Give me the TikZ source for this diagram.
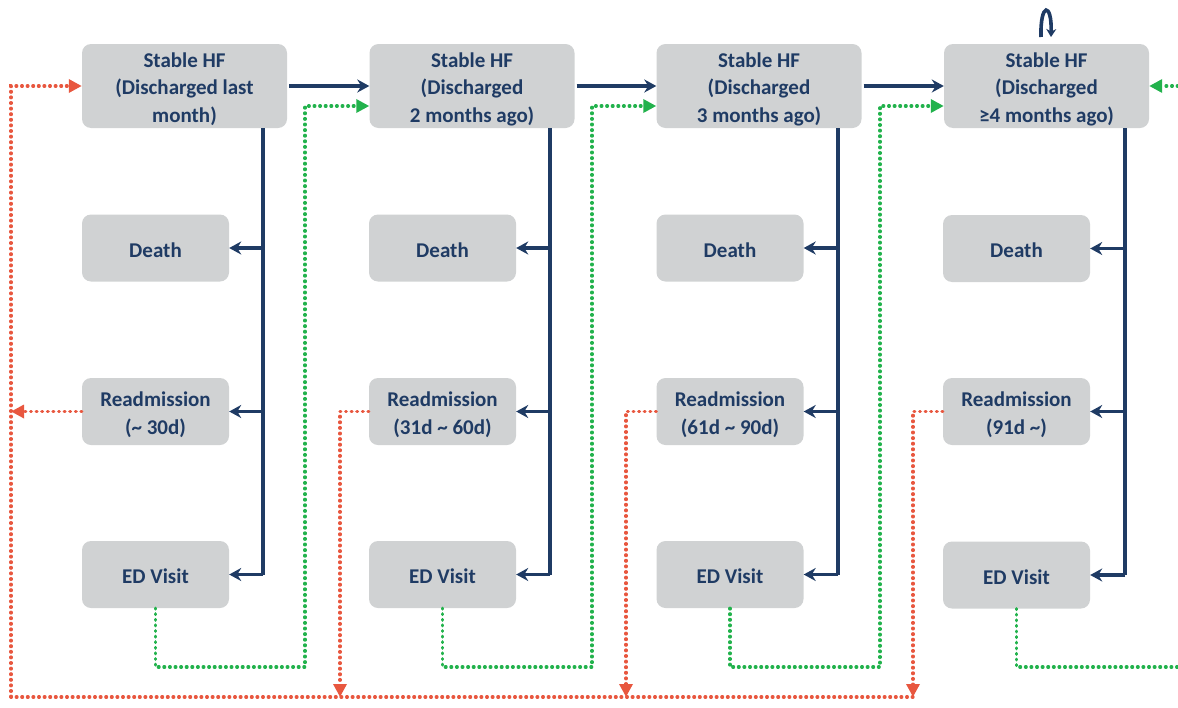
\documentclass[tikz,border=0pt]{standalone}
\usepackage{fontspec}
\setmainfont{Carlito}
\usetikzlibrary{arrows.meta}
\definecolor{navy}{HTML}{1F3B64}
\definecolor{boxgray}{HTML}{D0D2D3}
\definecolor{redd}{HTML}{E8573F}
\definecolor{grn}{HTML}{22B24C}
\newcommand\tallstrut{\rule{0pt}{21pt}}
\newcommand\onestrut{\rule{0pt}{18.5pt}}
\begin{document}
\begin{tikzpicture}[x=1pt,y=-1pt,
 box/.style={fill=boxgray, rounded corners=9pt, text=navy, font=\fontsize{21}{27.5}\selectfont\bfseries, align=center, inner sep=0pt},
 big/.style={box, minimum width=205pt, minimum height=84pt},
 small/.style={box, minimum width=147pt, minimum height=67pt},
 flow/.style={draw=navy, line width=3.2pt},
 flowarrow/.style={flow, -{Stealth[length=12pt,width=13pt]}},
 dotline/.style={line width=3.2pt, dash pattern=on 0.8pt off 4.8pt, line cap=round},
 reddot/.style={dotline, draw=redd},
 grndot/.style={dotline, draw=grn},
 redarrow/.style={reddot, -{Triangle[length=13pt,width=13pt]}},
 grnarrow/.style={grndot, -{Triangle[length=13pt,width=13pt]}}
]
\useasboundingbox (0,0) rectangle (1178,707);

% top boxes
\node[big] (t1) at (184.5,86) {\tallstrut Stable HF\\(Discharged last\\month)};
\node[big] (t2) at (472,86) {\tallstrut Stable HF\\(Discharged\\2 months ago)};
\node[big] (t3) at (759,86) {\tallstrut Stable HF\\(Discharged\\3 months ago)};
\node[big] (t4) at (1046.5,86) {\tallstrut Stable HF\\(Discharged\\≥4 months ago)};

% small boxes
\node[small] (d1) at (155.5,248) {\onestrut Death};
\node[small] (d2) at (442.5,248) {\onestrut Death};
\node[small] (d3) at (730,248) {\onestrut Death};
\node[small] (d4) at (1016.5,248.5) {\onestrut Death};
\node[small] (r1) at (155.5,411.5) {\tallstrut Readmission\\(\textasciitilde{} 30d)};
\node[small] (r2) at (442.5,411.5) {\tallstrut Readmission\\(31d \textasciitilde{} 60d)};
\node[small] (r3) at (730,411.5) {\tallstrut Readmission\\(61d \textasciitilde{} 90d)};
\node[small] (r4) at (1016.5,411.5) {\tallstrut Readmission\\(91d \textasciitilde)};
\node[small] (e1) at (155.5,574.5) {\onestrut ED Visit};
\node[small] (e2) at (442.5,574.5) {\onestrut ED Visit};
\node[small] (e3) at (730,574.5) {\onestrut ED Visit};
\node[small] (e4) at (1016.5,575) {\onestrut ED Visit};

% blue flows
\coordinate (v1) at (263,0);
\coordinate (v2) at (550,0);
\coordinate (v3) at (838,0);
\coordinate (v4) at (1125,0);
\foreach \i in {1,2,3,4}{
  \draw[flow] (t\i.south -| v\i) -- (e\i.east -| v\i);
  \draw[flowarrow] (d\i.east -| v\i) -- (d\i.east);
  \draw[flowarrow] (r\i.east -| v\i) -- (r\i.east);
  \draw[flowarrow] (e\i.east -| v\i) -- (e\i.east);
}
\draw[flowarrow] ([xshift=2pt]t1.east) -- (t2.west);
\draw[flowarrow] ([xshift=2pt]t2.east) -- (t3.west);
\draw[flowarrow] ([xshift=2pt]t3.east) -- (t4.west);
\draw[navy, line width=3.6pt, -{Stealth[length=8pt,width=10pt]}] (1041,37) .. controls (1040,2) and (1052,2) .. (1051,37);

% green flows
\coordinate (g1) at (305,667);
\coordinate (g2) at (592,667);
\coordinate (g3) at (880,667);
\coordinate (gend) at (1178,667);
\coordinate (gin) at (1178,86);
\coordinate (i2) at ([yshift=-20pt]t2.west);
\coordinate (i3) at ([yshift=-20pt]t3.west);
\coordinate (i4) at ([yshift=-20pt]t4.west);
\draw[grnarrow] (e1.south) -- (e1.south |- g1) -- (g1) -- (g1 |- i2) -- (i2);
\draw[grnarrow] (e2.south) -- (e2.south |- g2) -- (g2) -- (g2 |- i3) -- (i3);
\draw[grnarrow] (e3.south) -- (e3.south |- g3) -- (g3) -- (g3 |- i4) -- (i4);
\draw[grndot] (e4.south) -- (e4.south |- gend) -- (gend);
\draw[grnarrow] (gin) -- (t4.east);

% red flows
\coordinate (rl) at (11,697);
\coordinate (c2) at (340,697);
\coordinate (c3) at (626,697);
\coordinate (c4) at (913,697);
\draw[reddot] (c4) -- (rl);
\draw[redarrow] (rl) -- (rl |- t1.west) -- (t1.west);
\draw[redarrow] (r1.west) -- (r1.west -| rl);
\draw[redarrow] (r2.west) -- (r2.west -| c2) -- (c2);
\draw[redarrow] (r3.west) -- (r3.west -| c3) -- (c3);
\draw[redarrow] (r4.west) -- (r4.west -| c4) -- (c4);
\end{tikzpicture}
\end{document}
